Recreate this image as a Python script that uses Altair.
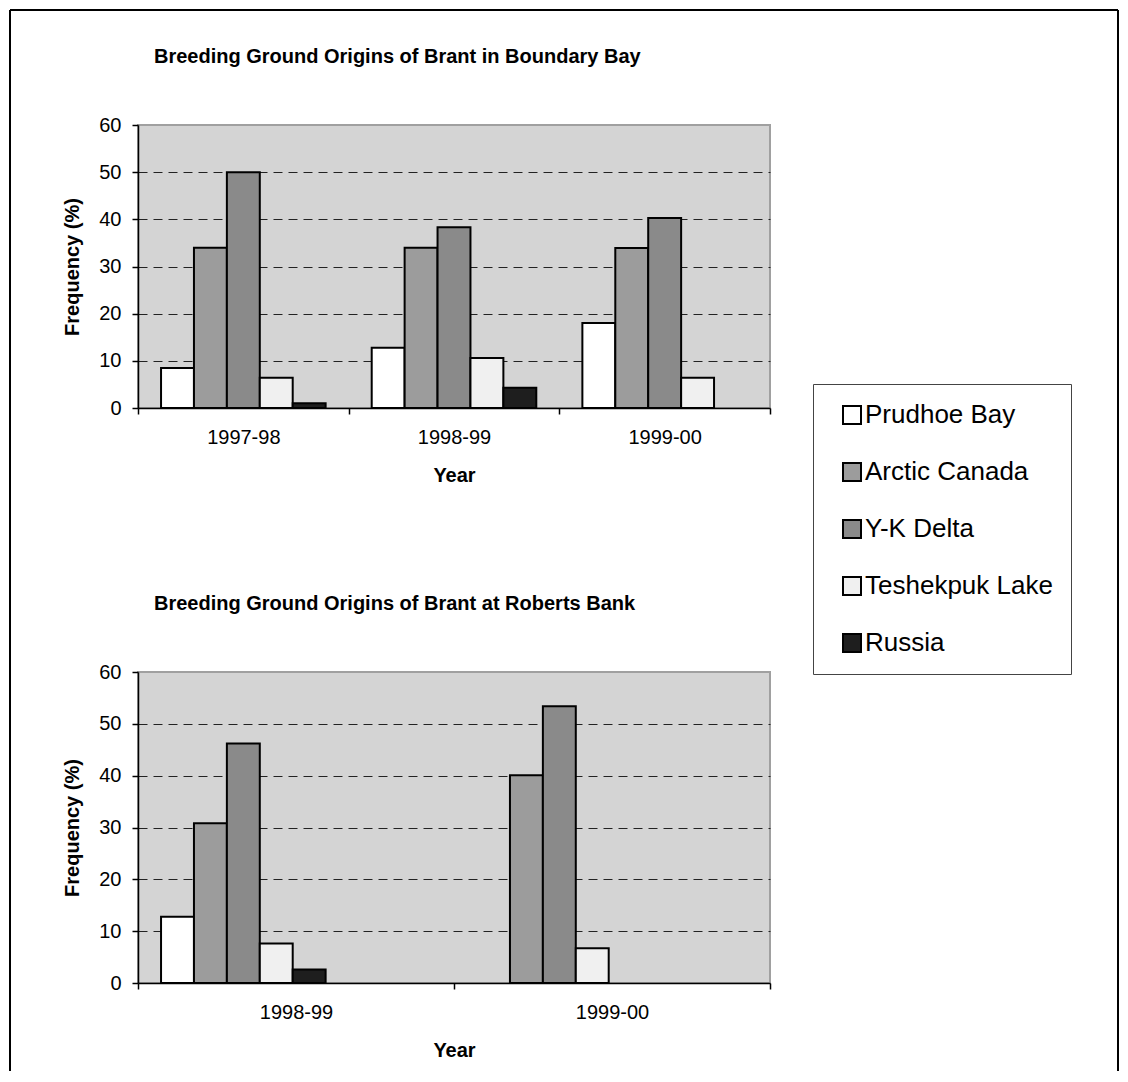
import altair as alt
import pandas as pd

FONT = "Liberation Sans"

series = ["Prudhoe Bay", "Arctic Canada", "Y-K Delta", "Teshekpuk Lake", "Russia"]
fills = ["#ffffff", "#9c9c9c", "#8a8a8a", "#f0f0f0", "#1e1e1e"]

# Boundary Bay
bb_years = ["1997-98", "1998-99", "1999-00"]
bb_prudhoe = [8.5, 12.8, 18.0]
bb_arctic = [34.0, 34.0, 33.9]
bb_yk = [50.0, 38.3, 40.3]
bb_tesh = [6.4, 10.6, 6.4]
bb_russia = [1.0, 4.3, 0.0]

# Roberts Bank
rb_years = ["1998-99", "1999-00"]
rb_prudhoe = [12.8, 0.0]
rb_arctic = [30.8, 40.1]
rb_yk = [46.2, 53.4]
rb_tesh = [7.6, 6.7]
rb_russia = [2.6, 0.0]

y_ticks = [0, 10, 20, 30, 40, 50, 60]


def long_df(years, cols):
    rows = []
    for name, vals in zip(series, cols):
        for yr, v in zip(years, vals):
            if v > 0:
                rows.append({"Year": yr, "Origin": name, "Frequency": v})
    return pd.DataFrame(rows)


bb_df = long_df(bb_years, [bb_prudhoe, bb_arctic, bb_yk, bb_tesh, bb_russia])
rb_df = long_df(rb_years, [rb_prudhoe, rb_arctic, rb_yk, rb_tesh, rb_russia])

grid_op = {"condition": {"test": "datum.value == 0 || datum.value == 60", "value": 0}, "value": 1}


def panel(df, years, title, height, title_offset):
    return alt.Chart(df).mark_bar(stroke="black", strokeWidth=2).encode(
        x=alt.X("Year:N", sort=years,
                scale=alt.Scale(domain=years, paddingInner=0, paddingOuter=0),
                axis=alt.Axis(title="Year", labelAngle=0, tickBand="extent",
                              tickSize=6, labelPadding=13, titlePadding=18, grid=False)),
        xOffset=alt.XOffset("Origin:N",
                            scale=alt.Scale(domain=series, paddingInner=0, paddingOuter=0.7)),
        y=alt.Y("Frequency:Q", scale=alt.Scale(domain=[0, 60], nice=False),
                axis=alt.Axis(values=y_ticks, title="Frequency (%)", tickSize=6,
                              labelPadding=11, titlePadding=16, grid=True,
                              gridDash=[9, 6], gridColor="#222222", gridWidth=1,
                              gridOpacity=grid_op)),
        fill=alt.Fill("Origin:N", scale=alt.Scale(domain=series, range=fills),
                      legend=alt.Legend(title=None, orient="none", legendX=675, legendY=259,
                                        symbolType="square", symbolSize=324,
                                        symbolStrokeColor="black", symbolStrokeWidth=2,
                                        symbolOffset=8, labelOffset=0, labelLimit=400,
                                        labelFontSize=26, labelFont=FONT, labelColor="black",
                                        rowPadding=31, padding=18,
                                        strokeColor="#444444", fillColor="white")),
    ).properties(
        width=632, height=height,
        title=alt.TitleParams(text=title, anchor="start", frame="group", dx=16,
                              offset=title_offset, fontSize=20, font=FONT,
                              fontWeight="bold", color="black"),
    )


frame_data = alt.Data(values=[{"k": 1}])
frame_left = alt.Chart(frame_data).mark_rule(color="black", strokeWidth=2).encode(
    x=alt.value(-128), y=alt.value(-115), y2=alt.value(946))
frame_top = alt.Chart(frame_data).mark_rule(color="black", strokeWidth=2).encode(
    x=alt.value(-128), x2=alt.value(980), y=alt.value(-115))
frame_right = alt.Chart(frame_data).mark_rule(color="black", strokeWidth=2).encode(
    x=alt.value(980), y=alt.value(-115), y2=alt.value(946))

top = alt.layer(
    panel(bb_df, bb_years, "Breeding Ground Origins of Brant in Boundary Bay", 283, -58),
    frame_left, frame_top, frame_right,
)
bottom = panel(rb_df, rb_years, "Breeding Ground Origins of Brant at Roberts Bank", 311, 48)

chart = alt.vconcat(top, bottom, spacing=264, bounds="flush").properties(
    padding=0, background="white"
).configure_view(
    stroke="#a0a0a0", strokeWidth=2, fill="#d4d4d4"
).configure_axis(
    labelFont=FONT, labelFontSize=20, labelColor="black",
    titleFont=FONT, titleFontSize=20, titleFontWeight="bold", titleColor="black",
    domainColor="black", domainWidth=1.5, tickColor="black", tickWidth=1.5,
)

chart.save("out.html", embed_options={"renderer": "svg", "actions": False})
